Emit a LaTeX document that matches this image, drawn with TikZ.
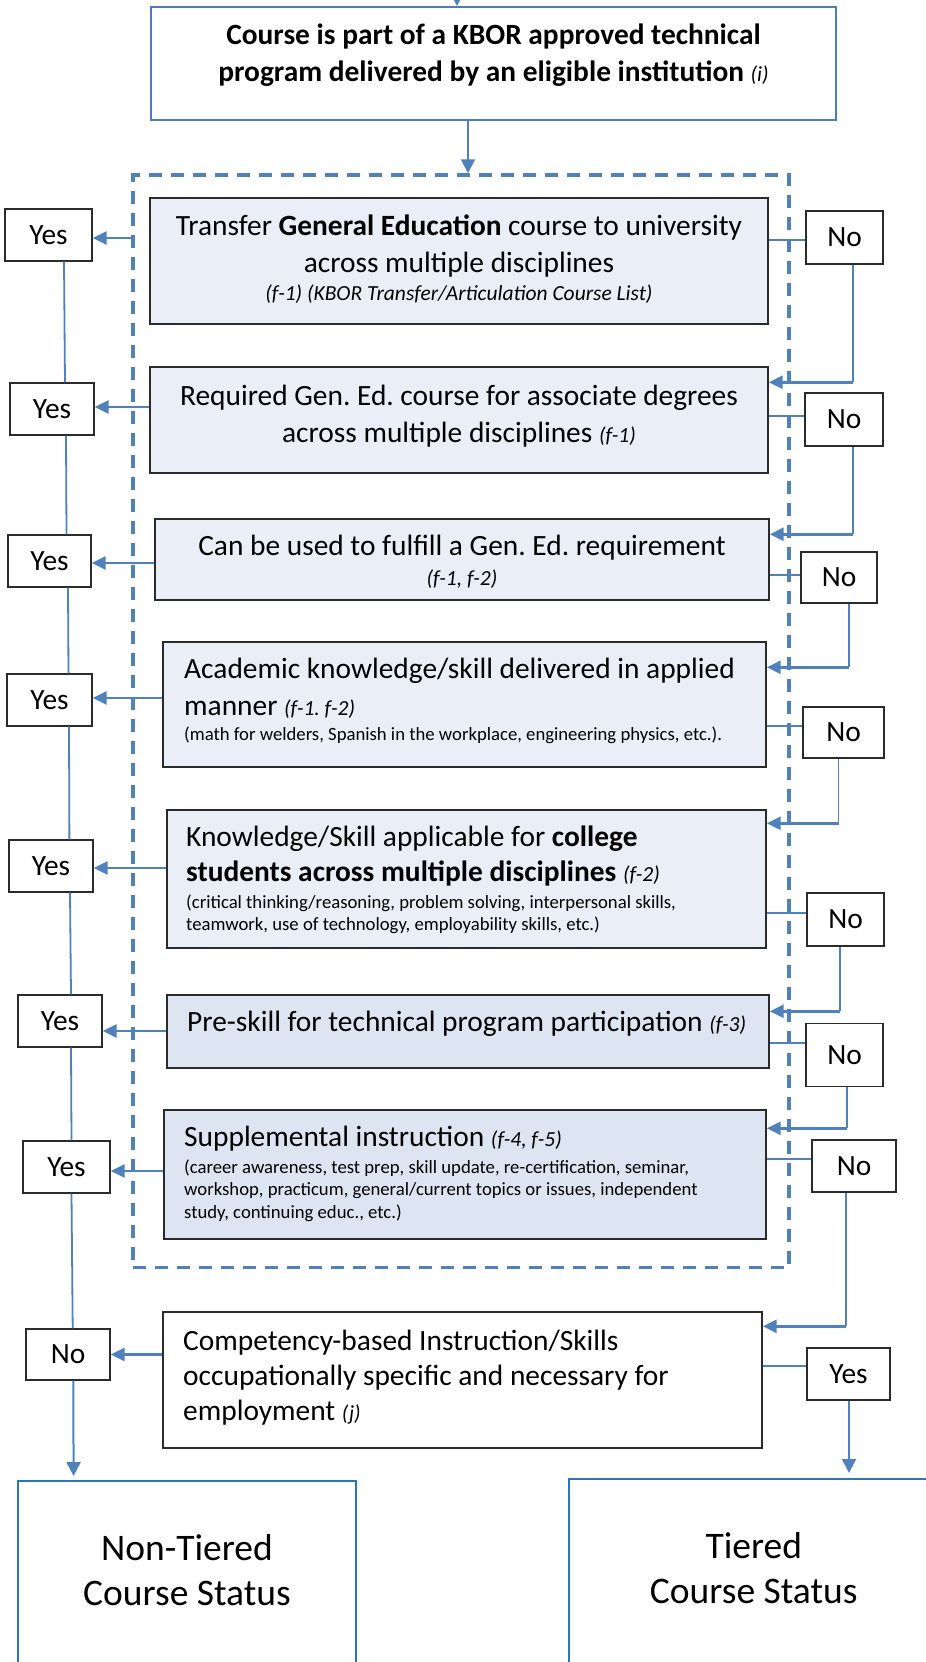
\documentclass[tikz,border=0pt]{standalone}
\usepackage{fontspec}
\setmainfont{Carlito}
\usetikzlibrary{arrows.meta,calc}
\frenchspacing

\definecolor{lineblue}{HTML}{4F81BD}
\definecolor{topblue}{HTML}{4A7EBB}
\definecolor{statusblue}{HTML}{2E75B6}
\definecolor{lightfill}{HTML}{E9EEF7}
\definecolor{midfill}{HTML}{DCE5F1}
\definecolor{boxline}{HTML}{2B2B2B}

\newcommand{\mainsize}{\fontsize{29.4}{37}\selectfont}
\newcommand{\notesize}{\fontsize{18.7}{22.5}\selectfont}
\newcommand{\refnote}[1]{{\fontsize{21.5}{25}\selectfont\itshape #1}}

\tikzset{
  stepbox/.style={draw=boxline, line width=1.4pt, fill=lightfill, inner sep=0pt},
  darkbox/.style={stepbox, fill=midfill},
  plainbox/.style={stepbox, fill=white},
  answer/.style={draw=boxline, line width=1.3pt, fill=white, inner sep=0pt,
    minimum height=52pt, font=\fontsize{29.4}{35}\selectfont},
  boxtext/.style={inner sep=0pt, font=\mainsize, text width=#1},
  thinline/.style={draw=lineblue, line width=1.8pt},
  arrowline/.style={draw=lineblue, line width=2.8pt, -{Triangle[length=14pt,width=13pt]}},
  downarrow/.style={draw=lineblue, line width=2pt, -{Triangle[length=14pt,width=14pt]}}
}

\begin{document}
\begin{tikzpicture}[x=1pt,y=-1pt]
\useasboundingbox (0,0) rectangle (926,1662);

% dashed frame round the general education checks
\node[draw=lineblue, line width=3.5pt, dash pattern=on 13pt off 9pt, inner sep=0pt,
  minimum width=656pt, minimum height=1092.5pt] (frame) at (461,721.25) {};

% entry box
\node[draw=topblue, line width=2pt, fill=white, minimum width=685pt, minimum height=113pt] (top) at (493.5,63.5) {};
\node[boxtext=680pt, align=flush center, anchor=base, font=\mainsize\bfseries] (toptxt) at (493.5,45)
  {Course is part of a KBOR approved technical\\ program delivered by an eligible institution \textmd{\refnote{(i)}}};

% question boxes
\node[stepbox, minimum width=618pt, minimum height=126pt] (box1) at (459,261) {};
\node[boxtext=610pt, align=flush center, anchor=base] (box1txt) at (459,235)
  {Transfer \textbf{General Education} course to university\\ across multiple disciplines\par
   {\fontsize{21.5}{28}\selectfont\itshape (f-1) (KBOR Transfer/Articulation Course List)\par}};

\node[stepbox, minimum width=618pt, minimum height=106pt] (box2) at (459,420) {};
\node[boxtext=610pt, align=flush center, anchor=base] (box2txt) at (459,405)
  {Required Gen. Ed. course for associate degrees\\ across multiple disciplines \refnote{(f-1)}};

\node[stepbox, minimum width=614pt, minimum height=81pt] (box3) at (462,559.5) {};
\node[boxtext=600pt, align=flush center, anchor=base] (box3txt) at (462,555)
  {Can be used to fulfill a Gen. Ed. requirement\par
   {\fontsize{21.5}{30}\selectfont\itshape (f-1, f-2)\par}};

\node[stepbox, minimum width=603pt, minimum height=125pt] (box4) at (464.5,704.5) {};
\node[boxtext=590pt, align=flush left, anchor=base west] (box4txt) at (184,678)
  {Academic knowledge/skill delivered in applied\\ manner \refnote{(f-1. f-2)}\par
   {\fontsize{18.7}{25}\selectfont (math for welders, Spanish in the workplace, engineering physics, etc.).\par}};

\node[stepbox, minimum width=599pt, minimum height=138pt] (box5) at (466.5,879) {};
\node[boxtext=590pt, align=flush left, anchor=base west, font=\fontsize{29.4}{35}\selectfont] (box5txt) at (186,846.7)
  {Knowledge/Skill applicable for \textbf{college}\\ \textbf{students across multiple disciplines} \refnote{(f-2)}\par\vspace{4pt}
   {\notesize (critical thinking/reasoning, problem solving, interpersonal skills,\\ teamwork, use of technology, employability skills, etc.)\par}};

\node[darkbox, minimum width=602pt, minimum height=73pt] (box6) at (468,1031.5) {};
\node[boxtext=590pt, align=flush left, anchor=base west] (box6txt) at (187,1031.7)
  {Pre-skill for technical program participation \refnote{(f-3)}};

\node[darkbox, minimum width=602pt, minimum height=129pt] (box7) at (465,1174.5) {};
\node[boxtext=590pt, align=flush left, anchor=base west] (box7txt) at (184,1146.7)
  {Supplemental instruction \refnote{(f-4, f-5)}\par\vspace{4pt}
   {\notesize (career awareness, test prep, skill update, re-certification, seminar,\\ workshop, practicum, general/current topics or issues, independent\\ study, continuing educ., etc.)\par}};

\node[plainbox, minimum width=599pt, minimum height=136pt] (box8) at (462.5,1380) {};
\node[boxtext=590pt, align=flush left, anchor=base west, font=\fontsize{29.4}{35}\selectfont] (box8txt) at (183,1350)
  {Competency-based Instruction/Skills\\ occupationally specific and necessary for\\ employment \refnote{(j)}};

% outcome boxes
\node[draw=statusblue, line width=2pt, minimum width=338pt, minimum height=239pt] (nontiered) at (187,1600.5) {};
\node[boxtext=330pt, align=flush center, anchor=base, font=\fontsize{37.5}{45}\selectfont] (nttxt) at (187,1560) {Non-Tiered\\ Course Status};
\node[draw=statusblue, line width=2pt, minimum width=370.5pt, minimum height=241pt] (tiered) at (753.75,1599.5) {};
\node[boxtext=330pt, align=flush center, anchor=base, font=\fontsize{37.5}{45}\selectfont] (ttxt) at (753.75,1558) {Tiered\\ Course Status};

% answers on the left
\node[answer, minimum width=87pt] (yes1) at (48.5,235) {Yes};
\node[answer, minimum width=84pt] (yes2) at (52,409) {Yes};
\node[answer, minimum width=83pt] (yes3) at (49.5,561) {Yes};
\node[answer, minimum width=85pt] (yes4) at (49.5,700) {Yes};
\node[answer, minimum width=84pt] (yes5) at (51,866) {Yes};
\node[answer, minimum width=84pt] (yes6) at (60,1021) {Yes};
\node[answer, minimum width=87pt] (yes7) at (66.5,1167) {Yes};
\node[answer, minimum width=84pt, minimum height=51pt] (no8) at (68,1354.5) {No};

% answers on the right
\node[answer, minimum width=77pt, minimum height=53pt] (no1) at (844.5,237.5) {No};
\node[answer, minimum width=78pt, minimum height=53pt] (no2) at (844,419.5) {No};
\node[answer, minimum width=76pt, minimum height=51pt] (no3) at (839,577.5) {No};
\node[answer, minimum width=81pt, minimum height=51pt] (no4) at (843.5,732.5) {No};
\node[answer, minimum width=77pt, minimum height=53pt] (no5) at (845.5,919.5) {No};
\node[answer, minimum width=77pt, minimum height=63pt] (no6) at (844.5,1055) {No};
\node[answer, minimum width=84pt] (no7) at (854,1166) {No};
\node[answer, minimum width=83pt] (yes8) at (848.5,1374) {Yes};

% entry arrows
\coordinate (entry) at (457,-20);
\draw[downarrow] (entry) -- (entry |- top.north);
\draw[downarrow] ([xshift=-25.5pt]top.south) -- ([xshift=-25.5pt]top.south |- frame.north);

% yes side
\draw[arrowline] ([yshift=-3pt]yes1.east -| frame.west) -- ([yshift=-3pt]yes1.east);
\draw[arrowline] ([yshift=2pt]yes2.east -| box2.west) -- ([yshift=2pt]yes2.east);
\draw[arrowline] ([yshift=-2pt]yes3.east -| box3.west) -- ([yshift=-2pt]yes3.east);
\draw[arrowline] ([yshift=2pt]yes4.east -| box4.west) -- ([yshift=2pt]yes4.east);
\draw[arrowline] ([yshift=-2pt]yes5.east -| box5.west) -- ([yshift=-2pt]yes5.east);
\draw[arrowline] ([yshift=-10pt]yes6.east -| box6.west) -- ([yshift=-10pt]yes6.east);
\draw[arrowline] ([yshift=-4pt]yes7.east -| box7.west) -- ([yshift=-4pt]yes7.east);
\draw[arrowline] (no8.east -| box8.west) -- (no8.east);

\draw[thinline] ([xshift=15.5pt]yes1.south) -- ([xshift=13pt]yes2.north);
\draw[thinline] ([xshift=14pt]yes2.south) -- ([xshift=17pt]yes3.north);
\draw[thinline] ([xshift=18.5pt]yes3.south) -- ([xshift=19pt]yes4.north);
\draw[thinline] ([xshift=19.5pt]yes4.south) -- ([xshift=18.4pt]yes5.north);
\draw[thinline] ([xshift=19pt]yes5.south) -- ([xshift=11pt]yes6.north);
\draw[thinline] ([xshift=11pt]yes6.south) -- ([xshift=5pt]yes7.north);
\draw[thinline] ([xshift=5pt]yes7.south) -- ([xshift=4.7pt]no8.north);
\coordinate (ntin) at ([xshift=-113.4pt,yshift=4pt]nontiered.north);
\draw[downarrow] ([xshift=5.3pt]no8.south) -- (ntin);

% no side
\draw[thinline] ([yshift=-2.5pt]no1.west) -- ([yshift=-2.5pt]no1.west -| box1.east);
\draw[thinline] ([yshift=3.5pt]no2.west) -- ([yshift=3.5pt]no2.west -| box2.east);
\draw[thinline] ([yshift=2.5pt]no3.west) -- ([yshift=2.5pt]no3.west -| box3.east);
\draw[thinline] ([yshift=6.5pt]no4.west) -- ([yshift=6.5pt]no4.west -| box4.east);
\draw[thinline] ([yshift=6.5pt]no5.west) -- ([yshift=6.5pt]no5.west -| box5.east);
\draw[thinline] ([yshift=12pt]no6.west) -- ([yshift=12pt]no6.west -| box6.east);
\draw[thinline] ([yshift=7pt]no7.west) -- ([yshift=7pt]no7.west -| box7.east);
\draw[thinline] ([yshift=8pt]yes8.west) -- ([yshift=8pt]yes8.west -| box8.east);

\coordinate (in2) at ([yshift=-16pt]box2.north east);
\coordinate (in3) at ([yshift=-16pt]box3.north east);
\coordinate (in4) at ([yshift=-26pt]box4.north east);
\coordinate (in5) at ([yshift=-14pt]box5.north east);
\coordinate (in6) at ([yshift=-17pt]box6.north east);
\coordinate (in7) at ([yshift=-19pt]box7.north east);
\coordinate (in8) at ([yshift=-15pt]box8.north east);

\draw[thinline] ([xshift=8.5pt]no1.south) -- ([xshift=8.5pt]no1.south |- in2);
\draw[arrowline] ([xshift=8.5pt]no1.south |- in2) -- (in2);
\draw[thinline] ([xshift=9pt]no2.south) -- ([xshift=9pt]no2.south |- in3);
\draw[arrowline] ([xshift=9pt]no2.south |- in3) -- (in3);
\draw[thinline] ([xshift=10pt]no3.south) -- ([xshift=10pt]no3.south |- in4);
\draw[arrowline] ([xshift=10pt]no3.south |- in4) -- (in4);
\draw[thinline] ([xshift=-5pt]no4.south) -- ([xshift=-5pt]no4.south |- in5);
\draw[arrowline] ([xshift=-5pt]no4.south |- in5) -- (in5);
\draw[thinline] ([xshift=-5.5pt]no5.south) -- ([xshift=-5.5pt]no5.south |- in6);
\draw[arrowline] ([xshift=-5.5pt]no5.south |- in6) -- (in6);
\draw[thinline] ([xshift=2.5pt]no6.south) -- ([xshift=2.5pt]no6.south |- in7);
\draw[arrowline] ([xshift=2.5pt]no6.south |- in7) -- (in7);
\draw[thinline] ([xshift=-8pt]no7.south) -- ([xshift=-8pt]no7.south |- in8);
\draw[arrowline] ([xshift=-8pt]no7.south |- in8) -- (in8);

\coordinate (tin) at ([xshift=95.25pt,yshift=5pt]tiered.north);
\draw[downarrow] ([xshift=0.5pt]yes8.south) -- (tin);
\end{tikzpicture}
\end{document}
